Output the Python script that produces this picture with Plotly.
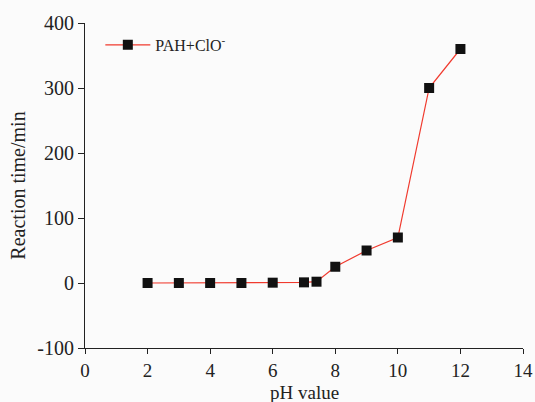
import plotly.graph_objects as go

ph = [2, 3, 4, 5, 6, 7, 7.4, 8, 9, 10, 11, 12]
reaction_time = [0, 0, 0, 0, 0.5, 1, 2, 25, 50, 70, 300, 360]
x_ticks = [0, 2, 4, 6, 8, 10, 12, 14]
y_ticks = [-100, 0, 100, 200, 300, 400]
y_tick_text = ["-100", "0", "100", "200", "300", "400"]

fam = "Liberation Serif, Times New Roman, serif"
fig = go.Figure()
fig.add_trace(go.Scatter(
    x=ph, y=reaction_time, mode="lines+markers",
    name="PAH+ClO<sup>-</sup>",
    line=dict(color="#f03a2e", width=1.2),
    marker=dict(symbol="square", size=10, color="#111111"),
))

fig.update_layout(
    width=535, height=402,
    margin=dict(l=85, r=12, t=23, b=54),
    paper_bgcolor="#fbfbfb", plot_bgcolor="#fbfbfb",
    font=dict(family=fam, size=20, color="#222"),
    showlegend=True,
    legend=dict(x=0.035, y=0.985, xanchor="left", yanchor="top", itemwidth=45,
                bgcolor="rgba(0,0,0,0)", font=dict(size=16, family=fam)),
    xaxis=dict(range=[0, 14], tickvals=x_ticks, showgrid=False, zeroline=False,
               automargin=False,
               showline=True, linecolor="#222", linewidth=1.2, ticks="outside",
               ticklen=5, tickcolor="#222", tickfont=dict(family=fam, size=19)),
    yaxis=dict(range=[-100, 400], tickvals=y_ticks, ticktext=y_tick_text,
               showgrid=False, zeroline=False, automargin=False,
               showline=True, linecolor="#222", linewidth=1.2, ticks="outside",
               ticklen=6, tickcolor="#222", tickfont=dict(family=fam, size=20),
               title=dict(text="Reaction time/min", standoff=6, font=dict(family=fam, size=20))),
    annotations=[dict(text="pH value", xref="paper", yref="paper", x=0.5, y=0,
                      yanchor="bottom", xanchor="center", yshift=-57, showarrow=False,
                      font=dict(family=fam, size=19, color="#222"))],
)
fig.write_html("out.html")
